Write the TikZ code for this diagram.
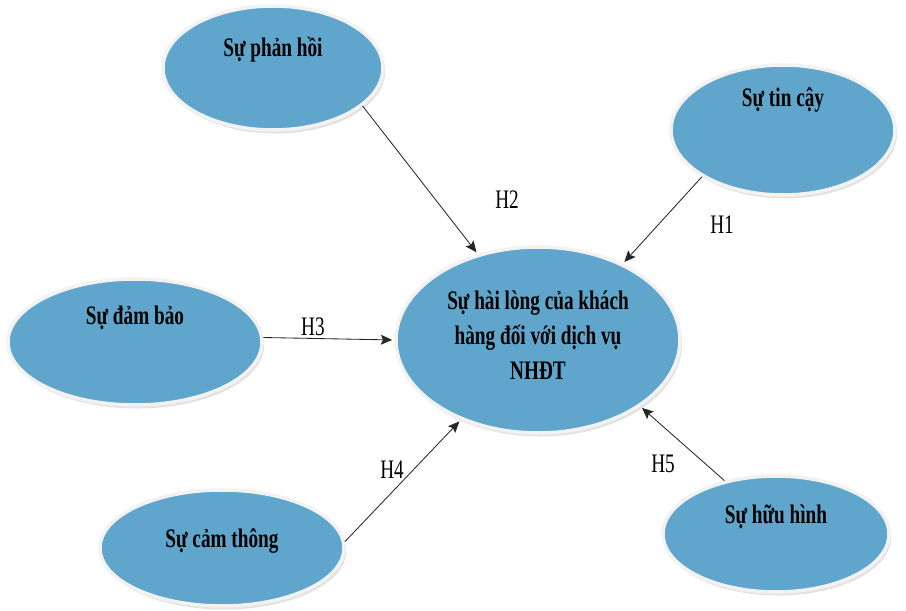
\documentclass[tikz,border=0pt]{standalone}
\usepackage{fontspec}
\setmainfont{Liberation Serif}
\newfontfamily\hvnfont[FakeStretch=0.72]{Liberation Serif}
\usepackage{tikz}
\usetikzlibrary{calc}
\usetikzlibrary{shapes.geometric}
\usetikzlibrary{shadows}
\usetikzlibrary{arrows.meta}
\usetikzlibrary{positioning}
\usepackage{xcolor}
\definecolor{ovalblue}{RGB}{96,166,204}

\tikzset{
    oval/.style={ellipse, fill=ovalblue, draw=gray!10, line width=2.5pt, inner sep=0pt,
        drop shadow={shadow xshift=1.5pt, shadow yshift=-2.5pt, fill=gray!45}},
    ovaltext/.style={font=\hvnfont\bfseries\fontsize{19}{24.8}\selectfont, align=center, text=black},
    hyplabel/.style={font=\hvnfont\fontsize{19}{22}\selectfont},
    hyparrow/.style={-{Stealth[length=8pt, width=7pt, inset=1.5pt]}, line width=0.6pt, black!85, shorten >=1.5pt}
}

\begin{document}
\begin{tikzpicture}
    \useasboundingbox (0,0) rectangle (22.65,15.275);

    % 1. Draw the ovals (factors and the central one)
    \node[oval, minimum width=5.5cm, minimum height=3.1cm] (phanhoi) at (6.825,13.575) {};
    \node[oval, minimum width=5.6cm, minimum height=3.25cm] (tincay) at (19.575,12.025) {};
    \node[oval, minimum width=6.35cm, minimum height=3.15cm] (dambao) at (3.375,6.725) {};
    \node[oval, minimum width=7.1cm, minimum height=4.65cm] (hailong) at (13.45,6.775) {};
    \node[oval, minimum width=6.1cm, minimum height=2.9cm] (camthong) at (5.55,1.575) {};
    \node[oval, minimum width=5.65cm, minimum height=2.9cm] (huuhinh) at (19.4,1.925) {};

    % 2. Put the texts in the ovals
    \node[ovaltext] (phanhoi-t) at ($(phanhoi.center)+(0,0.45)$) {Sự phản hồi};
    \node[ovaltext] (tincay-t) at ($(tincay.center)+(0,0.75)$) {Sự tin cậy};
    \node[ovaltext] (dambao-t) at ($(dambao.center)+(0,0.6)$) {Sự đảm bảo};
    \node[ovaltext] (hailong-t) at ($(hailong.center)+(0,0.12)$) {Sự hài lòng của khách\\hàng đối với dịch vụ\\NHĐT};
    \node[ovaltext] (camthong-t) at ($(camthong.center)+(0,0.17)$) {Sự cảm thông};
    \node[ovaltext] (huuhinh-t) at ($(huuhinh.center)+(0,0.42)$) {Sự hữu hình};

    % 3. Draw the arrows to the central oval
    \draw[hyparrow] (tincay.210) -- (hailong.42);
    \draw[hyparrow] (phanhoi.-23) -- (hailong.125);
    \draw[hyparrow] (dambao.2) -- (hailong.180);
    \draw[hyparrow] (camthong.3) -- (hailong.226);
    \draw[hyparrow] (huuhinh.134) -- (hailong.-33);

    % 4. Add the hypothesis labels
    \node[hyplabel] (h1) at (18.05,9.65) {H1};
    \node[hyplabel] (h2) at (12.675,10.275) {H2};
    \node[hyplabel] (h3) at (7.825,7.1) {H3};
    \node[hyplabel] (h4) at (9.8,3.525) {H4};
    \node[hyplabel] (h5) at (16.575,3.675) {H5};

\end{tikzpicture}
\end{document}
